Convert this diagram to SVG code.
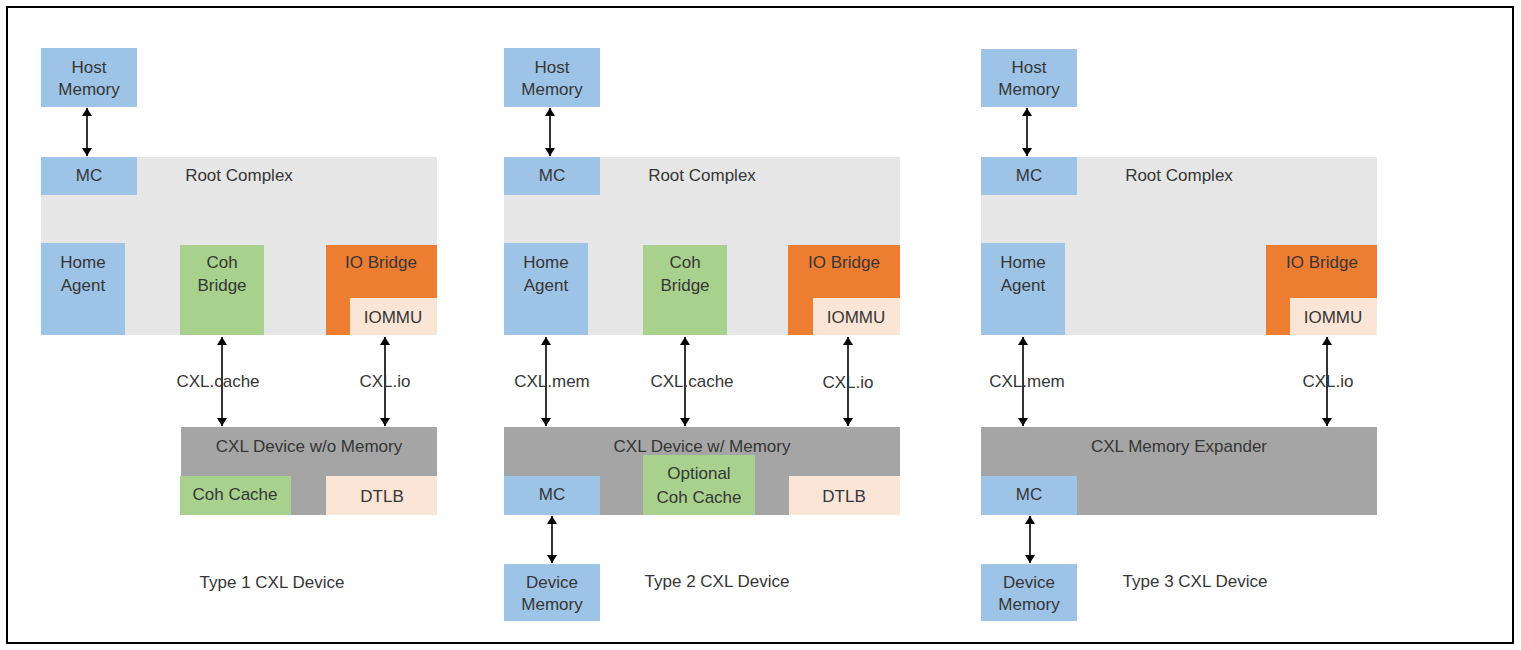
<svg xmlns="http://www.w3.org/2000/svg" width="1521" height="650" viewBox="0 0 1521 650">
<defs>
<marker id="ah" viewBox="0 0 8 10" refX="8" refY="5" markerWidth="8" markerHeight="10" markerUnits="userSpaceOnUse" orient="auto-start-reverse">
<path d="M0,0 L8,5 L0,10 z" fill="#000"/>
</marker>
<style>
.blue{fill:#9DC3E6}
.green{fill:#A9D18E}
.orange{fill:#ED7D31}
.peach{fill:#FBE5D6}
.rc{fill:#E7E6E6}
.dev{fill:#A5A5A5}
text{font-family:"Liberation Sans",Arial,sans-serif;font-size:17px;fill:#363636;text-anchor:middle}
.conn line{stroke:#000;stroke-width:1.6;marker-start:url(#ah);marker-end:url(#ah)}
</style>
</defs>
<rect width="1521" height="650" fill="#fff"/>
<rect x="7" y="7" width="1506" height="636" fill="none" stroke="#000" stroke-width="2"/>

<!-- Panel 1 -->
<g id="p1-rootcomplex"><rect class="rc" x="41" y="157" width="396" height="178"/><text x="239" y="181">Root Complex</text></g>
<g id="p1-hostmem"><rect class="blue" x="41" y="48" width="96" height="59"/><text x="89" y="73">Host</text><text x="89" y="95">Memory</text></g>
<g id="p1-mc"><rect class="blue" x="41" y="157" width="96" height="38"/><text x="89" y="181">MC</text></g>
<g id="p1-homeagent"><rect class="blue" x="41" y="243" width="84" height="92"/><text x="83" y="268">Home</text><text x="83" y="291">Agent</text></g>
<g id="p1-cohbridge"><rect class="green" x="180" y="245" width="84" height="90"/><text x="222" y="268">Coh</text><text x="222" y="291">Bridge</text></g>
<g id="p1-iobridge"><rect class="orange" x="326" y="245" width="111" height="90"/><text x="381" y="268">IO Bridge</text></g>
<g id="p1-iommu"><rect class="peach" x="350" y="298" width="87" height="37"/><text x="393" y="323">IOMMU</text></g>
<g id="p1-device"><rect class="dev" x="181" y="427" width="256" height="88"/><text x="309" y="452">CXL Device w/o Memory</text></g>
<g id="p1-cohcache"><rect class="green" x="180" y="476" width="111" height="39"/><text x="235" y="500">Coh Cache</text></g>
<g id="p1-dtlb"><rect class="peach" x="326" y="476" width="111" height="39"/><text x="382" y="502">DTLB</text></g>
<g id="p1-title"><text x="272" y="588">Type 1 CXL Device</text></g>

<!-- Panel 2 -->
<g id="p2-rootcomplex"><rect class="rc" x="504" y="157" width="396" height="178"/><text x="702" y="181">Root Complex</text></g>
<g id="p2-hostmem"><rect class="blue" x="504" y="48" width="96" height="59"/><text x="552" y="73">Host</text><text x="552" y="95">Memory</text></g>
<g id="p2-mc"><rect class="blue" x="504" y="157" width="96" height="38"/><text x="552" y="181">MC</text></g>
<g id="p2-homeagent"><rect class="blue" x="504" y="243" width="84" height="92"/><text x="546" y="268">Home</text><text x="546" y="291">Agent</text></g>
<g id="p2-cohbridge"><rect class="green" x="643" y="245" width="84" height="90"/><text x="685" y="268">Coh</text><text x="685" y="291">Bridge</text></g>
<g id="p2-iobridge"><rect class="orange" x="788" y="245" width="112" height="90"/><text x="844" y="268">IO Bridge</text></g>
<g id="p2-iommu"><rect class="peach" x="813" y="298" width="87" height="37"/><text x="856" y="323">IOMMU</text></g>
<g id="p2-device"><rect class="dev" x="504" y="427" width="396" height="88"/><text x="702" y="452">CXL Device w/ Memory</text></g>
<g id="p2-devmc"><rect class="blue" x="504" y="476" width="96" height="39"/><text x="552" y="500">MC</text></g>
<g id="p2-cohcache"><rect class="green" x="643" y="455" width="112" height="60"/><text x="699" y="479">Optional</text><text x="699" y="503">Coh Cache</text></g>
<g id="p2-dtlb"><rect class="peach" x="789" y="476" width="111" height="39"/><text x="844" y="502">DTLB</text></g>
<g id="p2-devmem"><rect class="blue" x="504" y="564" width="96" height="57"/><text x="552" y="588">Device</text><text x="552" y="610">Memory</text></g>
<g id="p2-title"><text x="717" y="587">Type 2 CXL Device</text></g>

<!-- Panel 3 -->
<g id="p3-rootcomplex"><rect class="rc" x="981" y="157" width="396" height="178"/><text x="1179" y="181">Root Complex</text></g>
<g id="p3-hostmem"><rect class="blue" x="981" y="49" width="96" height="58"/><text x="1029" y="73">Host</text><text x="1029" y="95">Memory</text></g>
<g id="p3-mc"><rect class="blue" x="981" y="157" width="96" height="38"/><text x="1029" y="181">MC</text></g>
<g id="p3-homeagent"><rect class="blue" x="981" y="243" width="84" height="92"/><text x="1023" y="268">Home</text><text x="1023" y="291">Agent</text></g>
<g id="p3-iobridge"><rect class="orange" x="1266" y="245" width="111" height="90"/><text x="1322" y="268">IO Bridge</text></g>
<g id="p3-iommu"><rect class="peach" x="1290" y="298" width="87" height="37"/><text x="1333" y="323">IOMMU</text></g>
<g id="p3-device"><rect class="dev" x="981" y="427" width="396" height="88"/><text x="1179" y="452">CXL Memory Expander</text></g>
<g id="p3-devmc"><rect class="blue" x="981" y="476" width="96" height="39"/><text x="1029" y="500">MC</text></g>
<g id="p3-devmem"><rect class="blue" x="981" y="564" width="96" height="57"/><text x="1029" y="588">Device</text><text x="1029" y="610">Memory</text></g>
<g id="p3-title"><text x="1195" y="587">Type 3 CXL Device</text></g>

<!-- Connectors -->
<g id="connectors" class="conn">
<line x1="87" y1="108" x2="87" y2="156"/>
<line x1="222" y1="337" x2="222" y2="426"/>
<line x1="385" y1="337" x2="385" y2="426"/>
<line x1="550" y1="108" x2="550" y2="156"/>
<line x1="546" y1="337" x2="546" y2="426"/>
<line x1="685" y1="337" x2="685" y2="426"/>
<line x1="848" y1="337" x2="848" y2="426"/>
<line x1="552" y1="516" x2="552" y2="563"/>
<line x1="1027" y1="108" x2="1027" y2="156"/>
<line x1="1023" y1="337" x2="1023" y2="426"/>
<line x1="1327" y1="337" x2="1327" y2="426"/>
<line x1="1030" y1="516" x2="1030" y2="563"/>
</g>
<g id="connector-labels">
<text x="218" y="387">CXL.cache</text>
<text x="385" y="387">CXL.io</text>
<text x="552" y="387">CXL.mem</text>
<text x="692" y="387">CXL.cache</text>
<text x="848" y="388">CXL.io</text>
<text x="1027" y="387">CXL.mem</text>
<text x="1328" y="387">CXL.io</text>
</g>
</svg>
